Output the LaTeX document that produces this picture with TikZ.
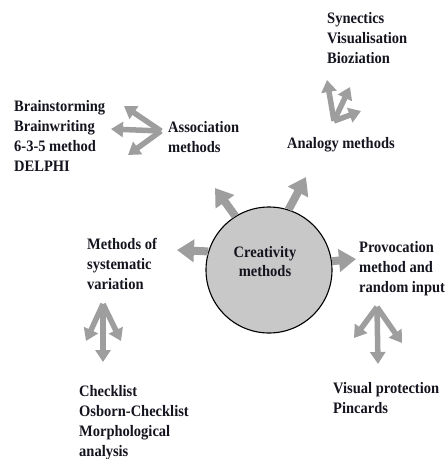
\documentclass[tikz,border=0pt]{standalone}
\usepackage{fontspec}
\setmainfont{Liberation Serif}
\usetikzlibrary{arrows.meta}
\definecolor{ink}{HTML}{14141F}
\definecolor{arrowgrey}{HTML}{9E9E9E}
\definecolor{discfill}{HTML}{C8C8C8}
% left-aligned block of lines, slightly tall letterforms
\newcommand{\lines}[1]{\scalebox{1}[1.1]{\begin{tabular}[t]{@{}l@{}}#1\end{tabular}}}
\begin{document}
\begin{tikzpicture}[x=1pt,y=-1pt,
  label/.style={anchor=base west,inner sep=0pt,text=ink,
    font=\fontsize{14.5}{18.2}\selectfont\bfseries},
  bigarrow/.style={draw=arrowgrey,line width=8pt,
    -{Triangle[width=22pt,length=17pt]}},
  forkarrow/.style={draw=arrowgrey,line width=5.5pt,
    -{Triangle[width=15pt,length=12pt]}}]
\useasboundingbox (0,0) rectangle (445,459);

% central disc
\node (core) [circle,draw=black,line width=1.1pt,fill=discfill,
  minimum size=126pt,inner sep=0pt] at (269,270) {};
\node (coretext) [anchor=base,inner sep=0pt,text=ink,
  font=\fontsize{14.5}{17.3}\selectfont\bfseries] at (265,257)
  {\scalebox{1}[1.1]{\begin{tabular}[t]{@{}c@{}}Creativity\\methods\end{tabular}}};

% method groups
\node (syn) [label] at (327,23) {\lines{Synectics\\Visualisation\\Bioziation}};
\node (analogy) [label] at (287,148) {\lines{Analogy methods}};
\node (brain) [label] at (14,111) {\lines{Brainstorming\\Brainwriting\\6-3-5 method\\DELPHI}};
\node (assoc) [label] at (168,132) {\lines{Association\\methods}};
\node (sysvar) [label] at (87,249) {\lines{Methods of\\systematic\\variation}};
\node (provoc) [label] at (359,252) {\lines{Provocation\\method and\\random input}};
\node (visual) [label] at (333,393) {\lines{Visual protection\\Pincards}};
\node (check) [label] at (79,396) {\lines{Checklist\\Osborn-Checklist\\Morphological\\analysis}};

% arrows leaving the disc
\coordinate (ul) at (215,188);
\coordinate (ur) at (306,177);
\coordinate (lt) at (177,250);
\coordinate (rt) at (356,259);
\draw[bigarrow] (core.122) -- (ul);
\draw[bigarrow] (core.72) -- (ur);
\draw[bigarrow] (core.163) -- (lt);
\draw[bigarrow] (core.8) -- (rt);

% fork towards association methods
\coordinate (fa) at (161,131);
\coordinate (fa1) at (124,106);
\coordinate (fa2) at (111,129);
\coordinate (fa3) at (128,155);
\draw[forkarrow] (fa) -- (fa1);
\draw[forkarrow] (fa) -- (fa2);
\draw[forkarrow] (fa) -- (fa3);

% fork towards analogy methods
\coordinate (fb) at (334,121);
\coordinate (fb1) at (327,80);
\coordinate (fb2) at (350,87);
\coordinate (fb3) at (361,111);
\draw[forkarrow] (fb) -- (fb1);
\draw[forkarrow] (fb) -- (fb2);
\draw[forkarrow] (fb) -- (fb3);

% fork below systematic variation
\coordinate (fc) at (103,304);
\coordinate (fc1) at (86,341);
\coordinate (fc2) at (103,362);
\coordinate (fc3) at (121,341);
\draw[forkarrow] (fc) -- (fc1);
\draw[forkarrow] (fc) -- (fc2);
\draw[forkarrow] (fc) -- (fc3);

% fork below provocation
\coordinate (fd) at (377,307);
\coordinate (fd1) at (354,338);
\coordinate (fd2) at (378,364);
\coordinate (fd3) at (402,343);
\draw[forkarrow] (fd) -- (fd1);
\draw[forkarrow] (fd) -- (fd2);
\draw[forkarrow] (fd) -- (fd3);
\end{tikzpicture}
\end{document}
